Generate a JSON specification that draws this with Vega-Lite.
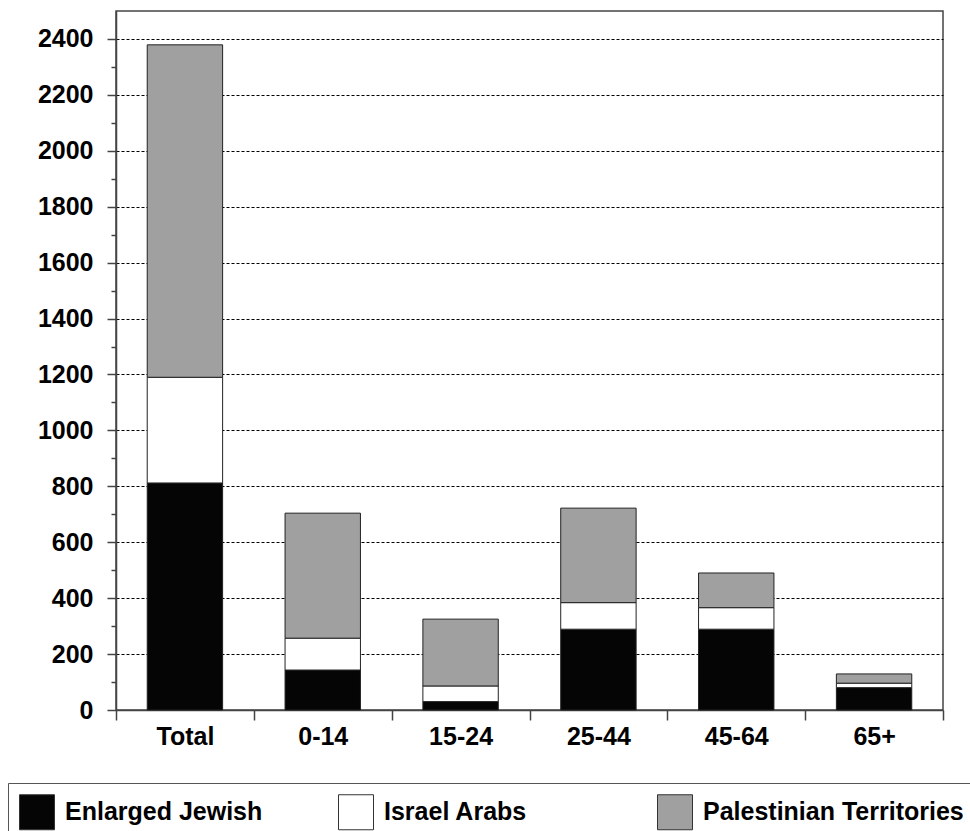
{
  "$schema": "https://vega.github.io/schema/vega-lite/v6.json",
  "autosize": {"type": "none"},
  "padding": {"left": 116, "top": 11, "right": 27, "bottom": 121},
  "width": 827,
  "height": 699,
  "background": "white",
  "config": {
    "font": "Liberation Sans, Arial, sans-serif",
    "view": {"stroke": "#444444", "strokeWidth": 1.5}
  },
  "data": {
    "values": [
      {"group": "Total", "series": "Enlarged Jewish", "value": 812},
      {"group": "Total", "series": "Israel Arabs", "value": 378},
      {"group": "Total", "series": "Palestinian Territories", "value": 1189},
      {"group": "0-14", "series": "Enlarged Jewish", "value": 143},
      {"group": "0-14", "series": "Israel Arabs", "value": 114},
      {"group": "0-14", "series": "Palestinian Territories", "value": 447},
      {"group": "15-24", "series": "Enlarged Jewish", "value": 30},
      {"group": "15-24", "series": "Israel Arabs", "value": 56},
      {"group": "15-24", "series": "Palestinian Territories", "value": 239},
      {"group": "25-44", "series": "Enlarged Jewish", "value": 289},
      {"group": "25-44", "series": "Israel Arabs", "value": 95},
      {"group": "25-44", "series": "Palestinian Territories", "value": 338},
      {"group": "45-64", "series": "Enlarged Jewish", "value": 289},
      {"group": "45-64", "series": "Israel Arabs", "value": 77},
      {"group": "45-64", "series": "Palestinian Territories", "value": 124},
      {"group": "65+", "series": "Enlarged Jewish", "value": 80},
      {"group": "65+", "series": "Israel Arabs", "value": 16},
      {"group": "65+", "series": "Palestinian Territories", "value": 33}
    ]
  },
  "mark": {"type": "bar", "stroke": "#222222", "strokeWidth": 1, "width": {"band": 0.547}},
  "encoding": {
    "x": {
      "field": "group",
      "type": "nominal",
      "sort": ["Total", "0-14", "15-24", "25-44", "45-64", "65+"],
      "scale": {"paddingInner": 0, "paddingOuter": 0},
      "axis": {
        "title": null,
        "labelAngle": 0,
        "tickBand": "extent",
        "tickSize": 10,
        "tickColor": "#444444",
        "tickWidth": 1.5,
        "domainColor": "#444444",
        "domainWidth": 1.5,
        "grid": false,
        "labelFontSize": 25,
        "labelFontWeight": "bold",
        "labelColor": "#000000",
        "labelPadding": 4
      }
    },
    "y": {
      "field": "value",
      "type": "quantitative",
      "stack": "zero",
      "scale": {"domain": [0, 2500], "nice": false},
      "axis": {
        "title": null,
        "values": [0, 100, 200, 300, 400, 500, 600, 700, 800, 900, 1000, 1100, 1200, 1300, 1400, 1500, 1600, 1700, 1800, 1900, 2000, 2100, 2200, 2300, 2400],
        "labelExpr": "datum.value % 200 === 0 ? datum.label : ''",
        "format": "d",
        "grid": true,
        "gridColor": "#000000",
        "gridDash": [3, 2],
        "gridWidth": 1,
        "gridOpacity": {"condition": {"test": "datum.value % 200 === 0 && datum.value > 0", "value": 1}, "value": 0},
        "tickSize": {"condition": {"test": "datum.value % 200 === 0", "value": 9}, "value": 5},
        "tickColor": "#444444",
        "tickWidth": 1.5,
        "domainColor": "#444444",
        "domainWidth": 1.5,
        "labelFontSize": 25,
        "labelFontWeight": "bold",
        "labelColor": "#000000",
        "labelPadding": 14
      }
    },
    "color": {
      "field": "series",
      "type": "nominal",
      "scale": {
        "domain": ["Enlarged Jewish", "Israel Arabs", "Palestinian Territories"],
        "range": ["#050505", "#ffffff", "#a0a0a0"]
      },
      "legend": {
        "title": null,
        "orient": "none",
        "legendX": -108,
        "legendY": 772,
        "direction": "horizontal",
        "columns": 3,
        "gridAlign": "all",
        "columnPadding": 10,
        "padding": 11,
        "strokeColor": "#555555",
        "symbolType": "square",
        "symbolSize": 1225,
        "symbolStrokeColor": "#333333",
        "symbolStrokeWidth": 1,
        "symbolOpacity": 1,
        "labelFontSize": 25,
        "labelFontWeight": "bold",
        "labelColor": "#000000",
        "labelOffset": 10,
        "labelLimit": 400
      }
    },
    "order": {"field": "series", "sort": "ascending"}
  }
}
